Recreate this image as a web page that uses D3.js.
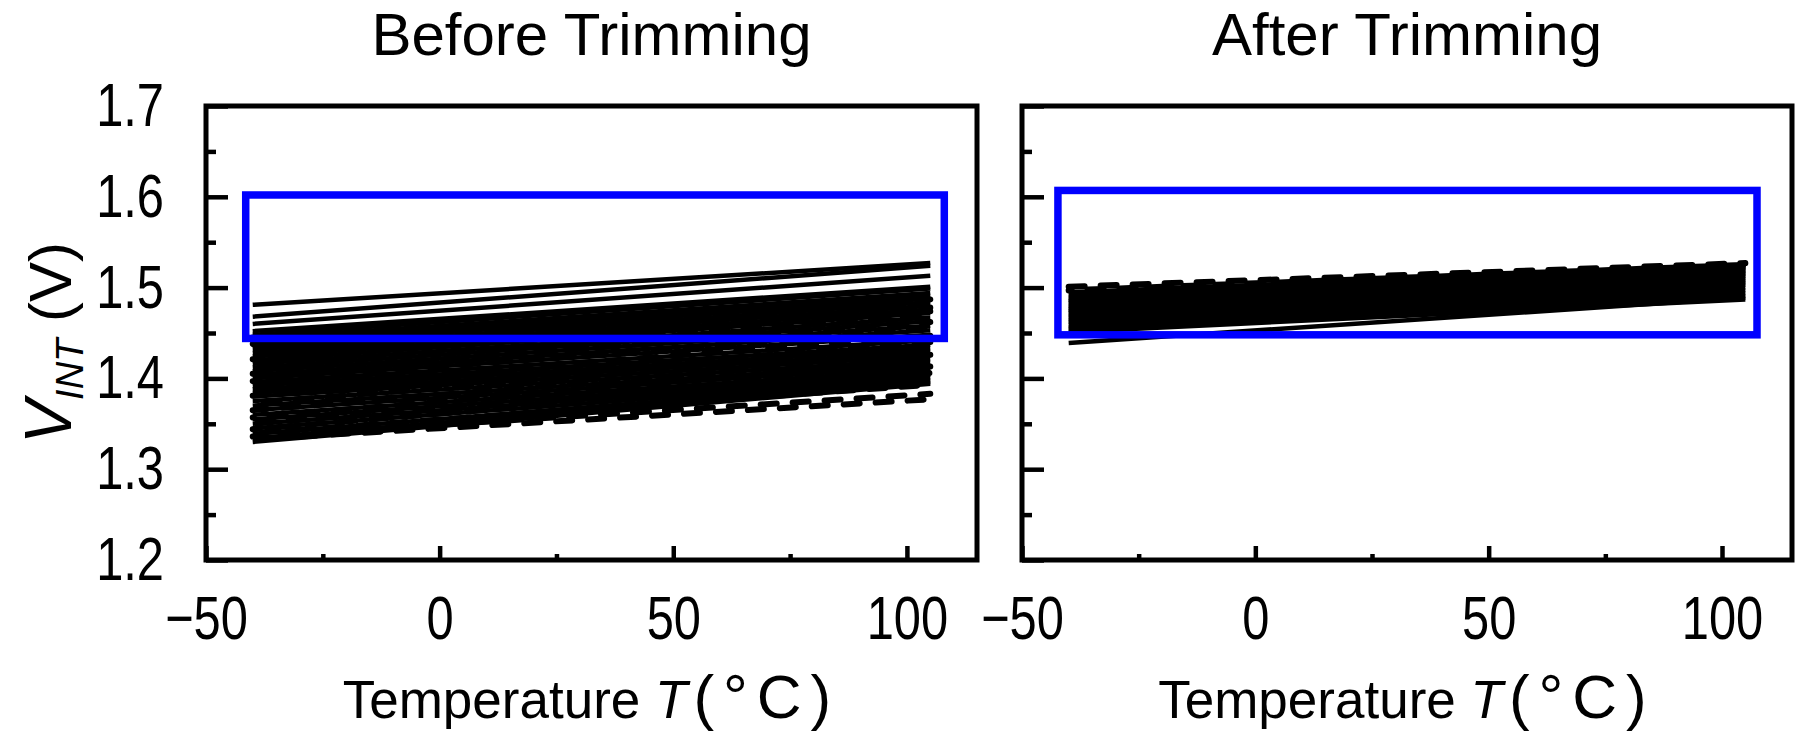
<!DOCTYPE html>
<html>
<head>
<meta charset="utf-8">
<script src="https://cdn.jsdelivr.net/npm/d3@7"></script>
<style>
  body { margin: 0; background: #fff; }
  text { font-family: "Liberation Sans", Arial, sans-serif; fill: #000; }
</style>
</head>
<body>
<svg id="chart" width="1801" height="738"></svg>
<script>
// temperatures where each curve was read (start / end)
const temps = [-40, 105];

// Before trimming: [V at -40 C, V at 105 C]
const beforeSolid = [
  [1.481, 1.527], [1.468, 1.524], [1.460, 1.513], [1.452, 1.501], [1.448, 1.499],
  [1.444, 1.494], [1.440, 1.491], [1.436, 1.488], [1.432, 1.484], [1.428, 1.480],
  [1.424, 1.476], [1.420, 1.472], [1.416, 1.467], [1.412, 1.463], [1.408, 1.458],
  [1.404, 1.453], [1.400, 1.448], [1.396, 1.442], [1.392, 1.437], [1.388, 1.433],
  [1.384, 1.429], [1.380, 1.425], [1.375, 1.421], [1.370, 1.417], [1.365, 1.414],
  [1.360, 1.410], [1.355, 1.407], [1.350, 1.404], [1.345, 1.401], [1.339, 1.398],
  [1.334, 1.396], [1.330, 1.394]
];
const beforeDashed = [
  [1.445, 1.487], [1.438, 1.482], [1.430, 1.478], [1.421, 1.474], [1.413, 1.469],
  [1.405, 1.462], [1.397, 1.455], [1.389, 1.447], [1.381, 1.440], [1.373, 1.433],
  [1.365, 1.426], [1.357, 1.420], [1.350, 1.413], [1.344, 1.406], [1.340, 1.393],
  [1.336, 1.383], [1.333, 1.377]
];

// After trimming
const afterSolid = [
  [1.439, 1.489], [1.451, 1.487], [1.454, 1.491], [1.456, 1.494], [1.459, 1.497],
  [1.462, 1.500], [1.464, 1.503], [1.467, 1.505], [1.469, 1.507], [1.472, 1.509],
  [1.474, 1.511], [1.476, 1.513], [1.478, 1.515], [1.480, 1.516], [1.483, 1.518],
  [1.485, 1.519], [1.487, 1.521], [1.489, 1.522], [1.492, 1.523], [1.495, 1.524]
];
const afterDashed = [
  [1.501, 1.527], [1.497, 1.525], [1.470, 1.510]
];

// spec window (blue box): [T left, T right, V bottom, V top]
const boxBefore = [-41.5, 108, 1.444, 1.602];
const boxAfter = [-42.3, 107.5, 1.448, 1.607];

const xTicks = [-50, 0, 50, 100];
const xMinor = [-25, 25, 75];
const yTicks = [1.2, 1.3, 1.4, 1.5, 1.6, 1.7];
const yMinor = [1.25, 1.35, 1.45, 1.55, 1.65];
const titles = ["Before Trimming", "After Trimming"];

const svg = d3.select('#chart');
const plotTop = 106, plotBottom = 560;

const fmtX = d => d < 0 ? '\u2212' + Math.abs(d) : String(d);

function drawPanel(left, right, title, solid, dashed, box, showYLabels) {
  const width = right - left, height = plotBottom - plotTop;
  const g = svg.append('g').attr('transform', `translate(${left}, ${plotTop})`);

  const x = d3.scaleLinear().domain([-50, 115]).range([0, width]);
  const y = d3.scaleLinear().domain([1.2, 1.7]).range([height, 0]);

  const line = d3.line()
    .x((d, i) => x(temps[i]))
    .y(d => y(d));

  // curves
  g.selectAll('.dashed').data(dashed).join('path')
    .attr('class', 'dashed')
    .attr('d', line)
    .attr('fill', 'none')
    .attr('stroke', '#000')
    .attr('stroke-width', 6)
    .attr('stroke-linecap', 'round')
    .attr('stroke-dasharray', '16 16')
    .attr('stroke-dashoffset', (d, i) => (i * 13) % 32);

  g.selectAll('.solid').data(solid).join('path')
    .attr('class', 'solid')
    .attr('d', line)
    .attr('fill', 'none')
    .attr('stroke', '#000')
    .attr('stroke-width', 4.5);

  // blue spec box
  g.append('rect')
    .attr('x', x(box[0]))
    .attr('y', y(box[3]))
    .attr('width', x(box[1]) - x(box[0]))
    .attr('height', y(box[2]) - y(box[3]))
    .attr('fill', 'none')
    .attr('stroke', '#0000ff')
    .attr('stroke-width', 7.5);

  // axes, ticks point inward
  g.append('g')
    .attr('class', 'xaxis')
    .attr('transform', `translate(0, ${height})`)
    .call(d3.axisBottom(x).tickValues(xTicks).tickFormat(fmtX)
      .tickSizeInner(-14).tickSizeOuter(0).tickPadding(36));
  g.append('g')
    .attr('transform', `translate(0, ${height})`)
    .call(d3.axisBottom(x).tickValues(xMinor).tickFormat('')
      .tickSizeInner(-6).tickSizeOuter(0));

  g.append('g')
    .attr('class', 'yaxis')
    .call(d3.axisLeft(y).tickValues(yTicks)
      .tickFormat(showYLabels ? d3.format('.1f') : '')
      .tickSizeInner(-22).tickSizeOuter(0).tickPadding(42));
  g.append('g')
    .call(d3.axisLeft(y).tickValues(yMinor).tickFormat('')
      .tickSizeInner(-10).tickSizeOuter(0));

  g.selectAll('.domain').remove();
  g.selectAll('.tick line').attr('stroke', '#000').attr('stroke-width', 4.5);
  g.selectAll('.tick text').attr('font-size', 61).attr('fill', '#000')
    .attr('font-family', '"Liberation Sans", sans-serif');
  // condensed look of the original digits
  g.selectAll('.xaxis .tick text').attr('transform', 'scale(0.8,1)');
  g.selectAll('.yaxis .tick text').attr('x', 0).attr('transform', 'translate(-42,0) scale(0.8,1)');

  // frame
  g.append('rect')
    .attr('width', width).attr('height', height)
    .attr('fill', 'none').attr('stroke', '#000').attr('stroke-width', 5);

  // title
  svg.append('text')
    .attr('x', left + width / 2).attr('y', 55)
    .attr('text-anchor', 'middle')
    .attr('font-size', 60)
    .text(title);

  // x label
  const xl = svg.append('text')
    .attr('x', left + width / 2).attr('y', 718)
    .attr('text-anchor', 'middle')
    .attr('font-size', 53);
  xl.append('tspan').text('Temperature ');
  xl.append('tspan').attr('font-style', 'italic').text('T');
  xl.append('tspan').attr('dx', 6).attr('font-size', 62).attr('letter-spacing', 9).text('(\u00B0C)');
}

drawPanel(206, 977, titles[0], beforeSolid, beforeDashed, boxBefore, true);
drawPanel(1022, 1792, titles[1], afterSolid, afterDashed, boxAfter, false);

// y label
const yl = svg.append('text')
  .attr('transform', 'translate(71, 343) rotate(-90)')
  .attr('text-anchor', 'middle');
yl.append('tspan').attr('font-size', 66).attr('font-style', 'italic').text('V');
yl.append('tspan').attr('font-size', 38).attr('font-style', 'italic').attr('dy', 12).text('INT');
yl.append('tspan').attr('font-size', 60).attr('dy', -12).text(' (V)');
</script>
</body>
</html>
